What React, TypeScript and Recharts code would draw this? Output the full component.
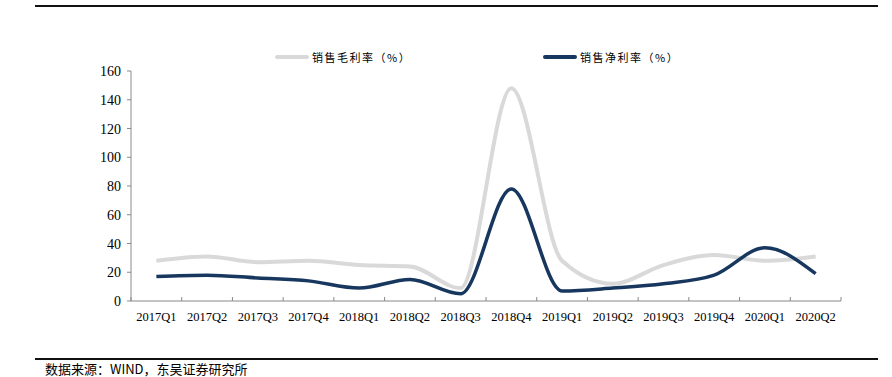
import { Line, LineChart, XAxis, YAxis } from "recharts";

const quarters = [
  "2017Q1", "2017Q2", "2017Q3", "2017Q4",
  "2018Q1", "2018Q2", "2018Q3", "2018Q4",
  "2019Q1", "2019Q2", "2019Q3", "2019Q4",
  "2020Q1", "2020Q2",
];
const grossMargin = [28, 31, 27, 28, 25, 24, 9, 148, 28, 12, 25, 32, 28, 31];
const netMargin = [17, 18, 16, 14, 9, 15, 5, 78, 7, 9, 12, 18, 37, 19];
const yTicks = [0, 20, 40, 60, 80, 100, 120, 140, 160];

const seriesNames = ["销售毛利率（%）", "销售净利率（%）"];
const seriesColors = ["#d9d9d9", "#17375e"];

const data = quarters.map((q, i) => ({
  name: q,
  gross: grossMargin[i],
  net: netMargin[i],
}));

const W = 892;
const H = 377;
const plotLeft = 131;
const plotRight = 841;
const bandW = (plotRight - plotLeft) / quarters.length;

const AXIS = "#898989";
const SERIF = "Liberation Serif";
const CJK = "Noto Sans CJK SC";

function XTick(props: any) {
  const { x, y, payload, index } = props;
  return (
    <g>
      <line x1={x - bandW / 2} x2={x - bandW / 2} y1={y} y2={y - 4} stroke={AXIS} />
      {index === quarters.length - 1 && (
        <line x1={x + bandW / 2} x2={x + bandW / 2} y1={y} y2={y - 4} stroke={AXIS} />
      )}
      <text x={x} y={y + 20} textAnchor="middle" fill="#000" style={{ fontSize: 12.5, fontFamily: SERIF }}>
        {payload.value}
      </text>
    </g>
  );
}

function YTick(props: any) {
  const { x, y, payload } = props;
  return (
    <text x={x} y={y + 5} textAnchor="end" fill="#000" style={{ fontSize: 14, fontFamily: SERIF }}>
      {payload.value}
    </text>
  );
}

export default function App() {
  return (
    <div style={{ position: "absolute", left: 0, top: 0, width: W, height: H, background: "#fff", overflow: "hidden", fontFamily: SERIF }}>
      {/* top rule */}
      <div style={{ position: "absolute", left: 35, top: 5, width: 843, height: 2, background: "#111" }} />

      {/* legend */}
      <div style={{ position: "absolute", left: 275, top: 49, fontFamily: CJK, fontSize: 11, color: "#000", display: "flex" }}>
        {seriesNames.map((name, i) => (
          <div key={name} style={{ display: "flex", alignItems: "center", width: 268 }}>
            <div style={{ width: 34, height: i === 0 ? 4 : 3.5, background: seriesColors[i], borderRadius: 2, marginRight: 3 }} />
            <span style={{ letterSpacing: 1.5 }}>{name}</span>
          </div>
        ))}
      </div>

      <LineChart
        width={W}
        height={H}
        data={data}
        margin={{ top: 71, right: W - plotRight, bottom: 46, left: plotLeft - 40 }}
      >
        <XAxis
          dataKey="name"
          height={30}
          interval={0}
          tickSize={0}
          tickMargin={0}
          tickLine={false}
          padding={{ left: bandW / 2, right: bandW / 2 }}
          axisLine={{ stroke: AXIS }}
          tick={<XTick />}
        />
        <YAxis
          width={40}
          domain={[0, 160]}
          ticks={yTicks}
          interval={0}
          tickSize={4}
          tickMargin={6}
          axisLine={{ stroke: AXIS }}
          tickLine={{ stroke: AXIS }}
          tick={<YTick />}
        />
        <Line
          dataKey="gross"
          name={seriesNames[0]}
          type="monotone"
          stroke={seriesColors[0]}
          strokeWidth={4}
          dot={false}
          isAnimationActive={false}
        />
        <Line
          dataKey="net"
          name={seriesNames[1]}
          type="monotone"
          stroke={seriesColors[1]}
          strokeWidth={3.5}
          dot={false}
          isAnimationActive={false}
        />
      </LineChart>

      {/* bottom rule and source */}
      <div style={{ position: "absolute", left: 35, top: 358, width: 843, height: 2, background: "#111" }} />
      <div style={{ position: "absolute", left: 45, top: 361, fontFamily: CJK, fontSize: 13, lineHeight: "15px", color: "#000", whiteSpace: "nowrap" }}>
        数据来源：WIND，东吴证券研究所
      </div>
    </div>
  );
}
